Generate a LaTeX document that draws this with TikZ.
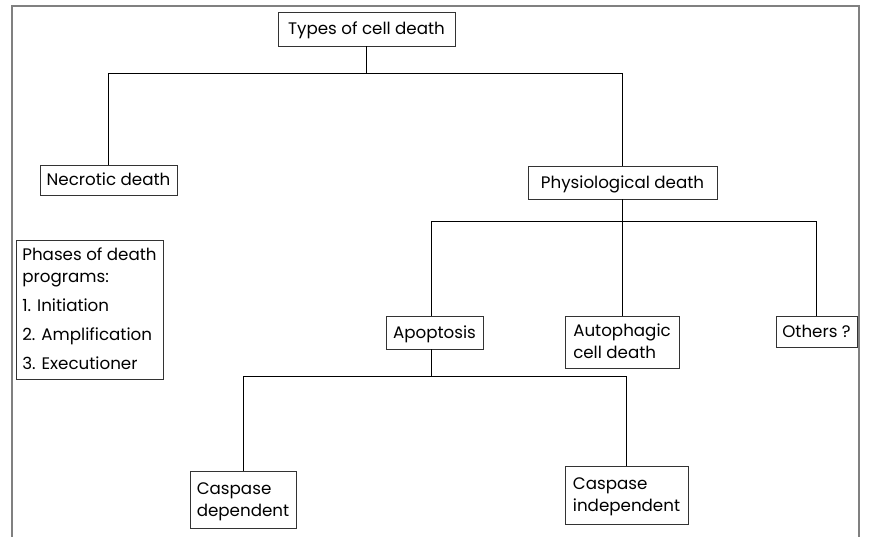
\documentclass[tikz,border=0pt]{standalone}
\usepackage{fontspec}
\setmainfont{Poppins}
\begin{document}
\begin{tikzpicture}[x=1pt,y=-1pt,
  box/.style={draw=black!80, line width=0.9pt, rectangle, inner sep=0pt, text=black,
    align=left, text height=11.8pt, text depth=0pt,
    font=\fontsize{16.7}{22}\selectfont},
  two/.style={text height=33.8pt},
  conn/.style={draw=black, line width=0.9pt},
  frame/.style={draw=black!50, line width=1.6pt}]
\useasboundingbox (0,0) rectangle (869,536);
\draw[frame] (12,537) -- (12,6) -- (859,6) -- (859,537);
\newcommand{\bx}[7][]{\node[box, #1, minimum width=#5pt, minimum height=#6pt] (#2) at (#3,#4) {#7};}
\bx{types}{366.5}{29}{177}{34}{Types of cell death}
\bx{necrotic}{108.5}{180}{137}{30}{Necrotic death}
\bx{phys}{622.5}{182.5}{189}{33}{Physiological death}
\bx[text height=120.8pt]{phases}{89.5}{309.5}{147}{139}{Phases of death\\ programs:\\[7pt] 1. Initiation\\[7pt] 2. Amplification\\[7pt] 3. Executioner}
\bx{apop}{434.5}{332.5}{97}{33}{Apoptosis}
\bx[two]{auto}{622}{342}{114}{52}{Autophagic\\cell death}
\bx{others}{816.5}{331.5}{81}{31}{Others ?}
\bx[two]{casdep}{243}{499.5}{106}{57}{Caspase\\dependent}
\bx[two]{casind}{626.5}{495}{123}{58}{Caspase\\independent}
\coordinate (j1) at ([yshift=-27pt]types.south);
\coordinate (j2) at ([yshift=-22pt]phys.south);
\coordinate (ain) at ([xshift=-3.5pt]apop.north);
\coordinate (aout) at ([xshift=-3.5pt]apop.south);
\coordinate (j3) at ([yshift=-27pt]aout);
\draw[conn] (types.south) -- (j1);
\draw[conn] (j1) -| (necrotic.north);
\draw[conn] (j1) -| (phys.north);
\draw[conn] (phys.south) -- (j2);
\draw[conn] (j2) -| (ain);
\draw[conn] (j2) -| (others.north);
\draw[conn] (j2) -- (j2 |- auto.north);
\draw[conn] (aout) -- (j3);
\draw[conn] (j3) -| (casdep.north);
\draw[conn] (j3) -| (casind.north);
\end{tikzpicture}
\end{document}
